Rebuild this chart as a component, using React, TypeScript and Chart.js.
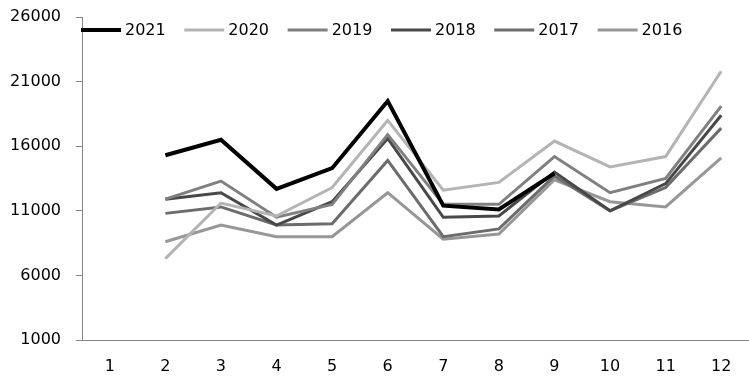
import React, { useEffect, useRef } from "react";
import { Chart, registerables } from "chart.js";

Chart.register(...registerables);

const months = ["1", "2", "3", "4", "5", "6", "7", "8", "9", "10", "11", "12"];
const s2021 = [null, 15300, 16500, 12700, 14300, 19500, 11400, 11100, 13900, null, null, null];
const s2020 = [null, 7300, 11600, 10600, 12800, 18000, 12600, 13200, 16400, 14400, 15200, 21800];
const s2019 = [null, 11900, 13300, 10500, 11500, 16900, 11500, 11500, 15200, 12400, 13500, 19100];
const s2018 = [null, 11900, 12400, 9900, 11700, 16600, 10500, 10600, 14000, 11000, 13100, 18400];
const s2017 = [null, 10800, 11300, 9900, 10000, 14900, 9000, 9600, 13700, 11000, 12800, 17400];
const s2016 = [null, 8600, 9900, 9000, 9000, 12400, 8800, 9200, 13400, 11700, 11300, 15100];

const FONT = "'DejaVu Sans', sans-serif";

const legendPlugin = {
  id: "topLegend",
  afterDraw(chart: any) {
    const ctx = chart.ctx;
    ctx.save();
    ctx.font = `16px ${FONT}`;
    ctx.textBaseline = "middle";
    ctx.textAlign = "left";
    let x = 81;
    const y = 30;
    chart.data.datasets.forEach((ds: any) => {
      ctx.strokeStyle = ds.borderColor;
      ctx.lineWidth = ds.borderWidth;
      ctx.lineCap = "butt";
      ctx.beginPath();
      ctx.moveTo(x, y);
      ctx.lineTo(x + 40, y);
      ctx.stroke();
      ctx.fillStyle = "#000";
      ctx.fillText(ds.label, x + 44, y + 1);
      const w = ctx.measureText(ds.label).width;
      x += 40 + 4 + w + 18.6;
    });
    ctx.restore();
  },
};

export default function App() {
  const ref = useRef<HTMLCanvasElement>(null);
  useEffect(() => {
    if (!ref.current) return;
    const mk = (label: string, data: (number | null)[], color: string, width: number) => ({
      label,
      data,
      borderColor: color,
      backgroundColor: color,
      borderWidth: width,
      pointRadius: 0,
      pointHoverRadius: 0,
      tension: 0,
      spanGaps: false,
      fill: false,
    });
    const chart = new Chart(ref.current, {
      type: "line",
      data: {
        labels: months,
        datasets: [
          mk("2021", s2021, "#000000", 4),
          mk("2020", s2020, "#b4b4b4", 3),
          mk("2019", s2019, "#808080", 3),
          mk("2018", s2018, "#484848", 3),
          mk("2017", s2017, "#6c6c6c", 3),
          mk("2016", s2016, "#979797", 3),
        ],
      },
      options: {
        animation: false,
        responsive: false,
        maintainAspectRatio: false,
        layout: { padding: { top: 17, right: -3, bottom: 0, left: 0 } },
        plugins: { legend: { display: false }, tooltip: { enabled: false } },
        scales: {
          x: {
            offset: true,
            grid: { display: false, drawTicks: false },
            border: { display: true, color: "#868686", width: 1 },
            ticks: { color: "#000", font: { family: FONT, size: 16 }, padding: 17, maxRotation: 0 },
            afterFit: (s: any) => {
              s.height = 47;
              s.paddingRight = 0;
            },
          },
          y: {
            min: 1000,
            max: 26000,
            grid: { drawOnChartArea: false, drawTicks: true, tickLength: 6, color: "#868686" },
            border: { display: true, color: "#868686", width: 1 },
            ticks: {
              stepSize: 5000,
              color: "#000",
              font: { family: FONT, size: 16 },
              padding: 15,
              callback: (v: any) => String(v),
            },
            afterFit: (s: any) => {
              s.width = 82;
              s.paddingTop = 0;
            },
          },
        },
      },
      plugins: [legendPlugin],
    });
    return () => chart.destroy();
  }, []);
  return (
    <div style={{ position: "fixed", left: 0, top: 0, width: 749, height: 387, background: "#fff" }}>
      <canvas ref={ref} width={749} height={387} style={{ width: 749, height: 387 }} />
    </div>
  );
}
